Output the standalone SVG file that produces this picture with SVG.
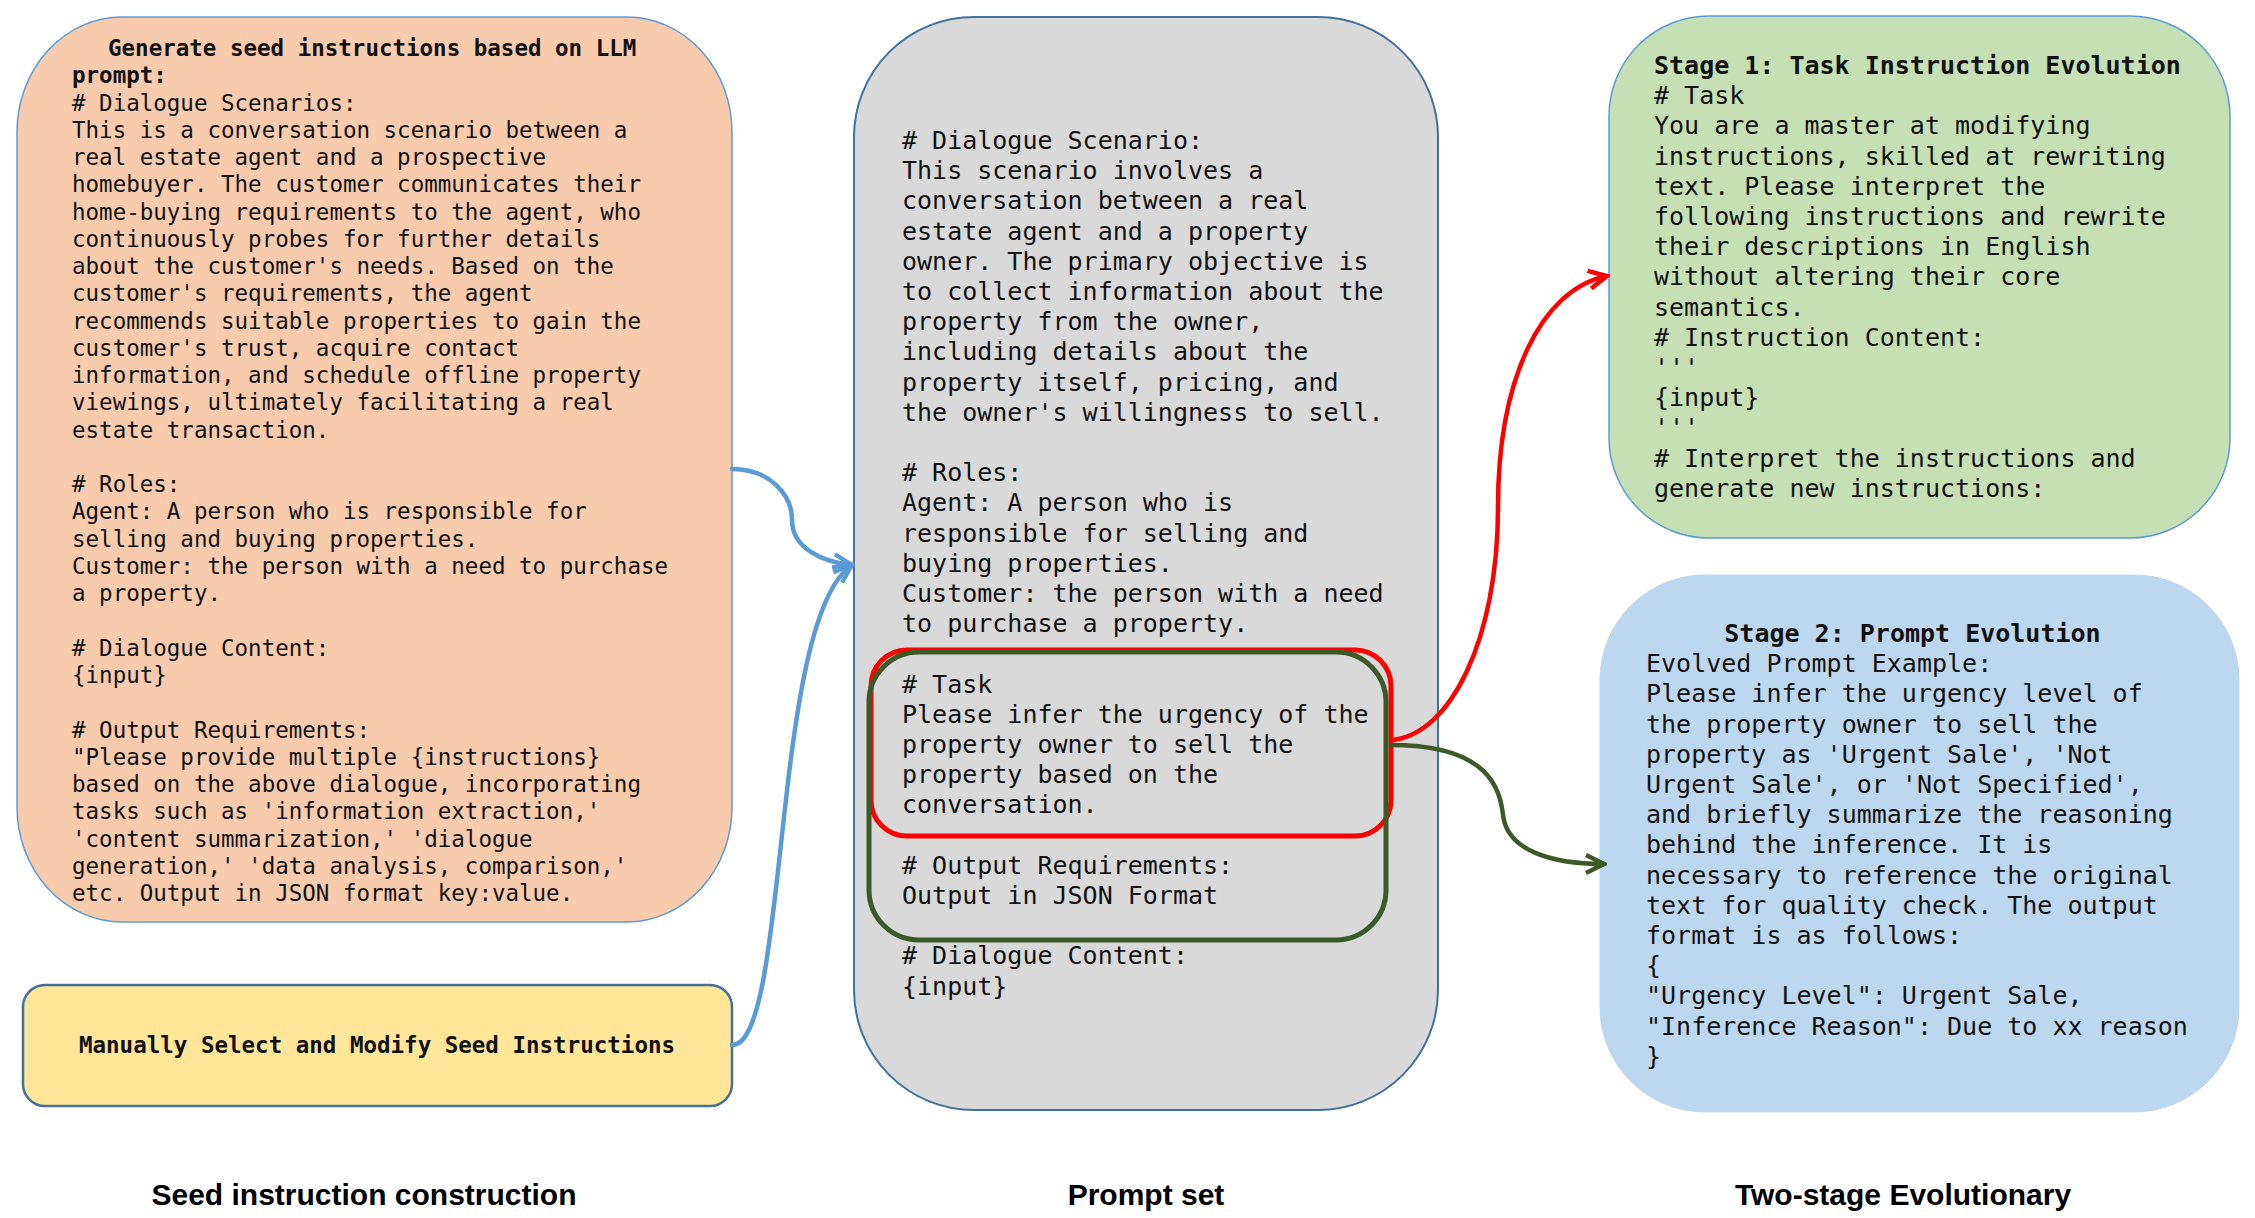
<svg xmlns="http://www.w3.org/2000/svg" width="2255" height="1218" viewBox="0 0 2255 1218">
<style>
.mono{font-family:"DejaVu Sans Mono","Liberation Mono",monospace;fill:#111;}
.s{font-size:22.5px;}
.m{font-size:25px;}
.b{font-weight:bold;}
.lbl{font-family:"Liberation Sans",Arial,sans-serif;font-weight:bold;font-size:30px;fill:#000;text-anchor:middle;}
.conn{fill:none;stroke-width:4.5;stroke-linecap:round;}
</style>
<defs>
<marker id="ab" viewBox="0 0 12 12" refX="10.5" refY="6" markerWidth="24" markerHeight="24" markerUnits="userSpaceOnUse" orient="auto"><path d="M1.5,1.5 L10.5,6 L1.5,10.5" fill="none" stroke="#5b9bd5" stroke-width="2.2"/></marker>
<marker id="ar" viewBox="0 0 12 12" refX="10.5" refY="6" markerWidth="24" markerHeight="24" markerUnits="userSpaceOnUse" orient="auto"><path d="M1.5,1.5 L10.5,6 L1.5,10.5" fill="none" stroke="#ff0000" stroke-width="2.2"/></marker>
<marker id="ag" viewBox="0 0 12 12" refX="10.5" refY="6" markerWidth="24" markerHeight="24" markerUnits="userSpaceOnUse" orient="auto"><path d="M1.5,1.5 L10.5,6 L1.5,10.5" fill="none" stroke="#3b5a27" stroke-width="2.2"/></marker>
</defs>
<rect width="2255" height="1218" fill="#fff"/>

<g id="seed-llm">
<rect x="17" y="17" width="715" height="905" rx="105" ry="115" fill="#f8cbad" stroke="#5b9bd5" stroke-width="1.5"/>
<text class="mono s" x="72" y="56">
<tspan class="b" x="108">Generate seed instructions based on LLM</tspan>
<tspan class="b" x="72" dy="27.26">prompt:</tspan>
<tspan x="72" dy="27.26"># Dialogue Scenarios:</tspan>
<tspan x="72" dy="27.26">This is a conversation scenario between a</tspan>
<tspan x="72" dy="27.26">real estate agent and a prospective</tspan>
<tspan x="72" dy="27.26">homebuyer. The customer communicates their</tspan>
<tspan x="72" dy="27.26">home-buying requirements to the agent, who</tspan>
<tspan x="72" dy="27.26">continuously probes for further details</tspan>
<tspan x="72" dy="27.26">about the customer's needs. Based on the</tspan>
<tspan x="72" dy="27.26">customer's requirements, the agent</tspan>
<tspan x="72" dy="27.26">recommends suitable properties to gain the</tspan>
<tspan x="72" dy="27.26">customer's trust, acquire contact</tspan>
<tspan x="72" dy="27.26">information, and schedule offline property</tspan>
<tspan x="72" dy="27.26">viewings, ultimately facilitating a real</tspan>
<tspan x="72" dy="27.26">estate transaction.</tspan>
<tspan x="72" dy="54.52"># Roles:</tspan>
<tspan x="72" dy="27.26">Agent: A person who is responsible for</tspan>
<tspan x="72" dy="27.26">selling and buying properties.</tspan>
<tspan x="72" dy="27.26">Customer: the person with a need to purchase</tspan>
<tspan x="72" dy="27.26">a property.</tspan>
<tspan x="72" dy="54.52"># Dialogue Content:</tspan>
<tspan x="72" dy="27.26">{input}</tspan>
<tspan x="72" dy="54.52"># Output Requirements:</tspan>
<tspan x="72" dy="27.26">"Please provide multiple {instructions}</tspan>
<tspan x="72" dy="27.26">based on the above dialogue, incorporating</tspan>
<tspan x="72" dy="27.26">tasks such as 'information extraction,'</tspan>
<tspan x="72" dy="27.26">'content summarization,' 'dialogue</tspan>
<tspan x="72" dy="27.26">generation,' 'data analysis, comparison,'</tspan>
<tspan x="72" dy="27.26">etc. Output in JSON format key:value.</tspan>
</text>
</g>

<g id="seed-manual">
<rect x="23" y="985" width="709" height="121" rx="22" fill="#ffe699" stroke="#41719c" stroke-width="2.5"/>
<text class="mono s b" x="377" y="1053" text-anchor="middle">Manually Select and Modify Seed Instructions</text>
</g>

<g id="prompt-set">
<rect x="854" y="17" width="584" height="1093" rx="120" fill="#d9d9d9" stroke="#41719c" stroke-width="2"/>
<text class="mono m" x="902" y="149">
<tspan x="902"># Dialogue Scenario:</tspan>
<tspan x="902" dy="30.2">This scenario involves a</tspan>
<tspan x="902" dy="30.2">conversation between a real</tspan>
<tspan x="902" dy="30.2">estate agent and a property</tspan>
<tspan x="902" dy="30.2">owner. The primary objective is</tspan>
<tspan x="902" dy="30.2">to collect information about the</tspan>
<tspan x="902" dy="30.2">property from the owner,</tspan>
<tspan x="902" dy="30.2">including details about the</tspan>
<tspan x="902" dy="30.2">property itself, pricing, and</tspan>
<tspan x="902" dy="30.2">the owner's willingness to sell.</tspan>
<tspan x="902" dy="60.4"># Roles:</tspan>
<tspan x="902" dy="30.2">Agent: A person who is</tspan>
<tspan x="902" dy="30.2">responsible for selling and</tspan>
<tspan x="902" dy="30.2">buying properties.</tspan>
<tspan x="902" dy="30.2">Customer: the person with a need</tspan>
<tspan x="902" dy="30.2">to purchase a property.</tspan>
<tspan x="902" dy="60.4"># Task</tspan>
<tspan x="902" dy="30.2">Please infer the urgency of the</tspan>
<tspan x="902" dy="30.2">property owner to sell the</tspan>
<tspan x="902" dy="30.2">property based on the</tspan>
<tspan x="902" dy="30.2">conversation.</tspan>
<tspan x="902" dy="60.4"># Output Requirements:</tspan>
<tspan x="902" dy="30.2">Output in JSON Format</tspan>
<tspan x="902" dy="60.4"># Dialogue Content:</tspan>
<tspan x="902" dy="30.2">{input}</tspan>
</text>
</g>

<g id="task-highlight">
<rect x="871" y="650" width="520" height="186" rx="36" fill="none" stroke="#ff0000" stroke-width="5"/>
</g>
<g id="task-output-highlight">
<rect x="869" y="652" width="517" height="288" rx="50" fill="none" stroke="#3b5a27" stroke-width="5"/>
</g>

<g id="stage1">
<rect x="1609" y="16" width="621" height="522" rx="100" fill="#c5e0b4" stroke="#5b9bd5" stroke-width="1.5"/>
<text class="mono m" x="1654" y="74">
<tspan class="b" x="1654">Stage 1: Task Instruction Evolution</tspan>
<tspan x="1654" dy="30.2"># Task</tspan>
<tspan x="1654" dy="30.2">You are a master at modifying</tspan>
<tspan x="1654" dy="30.2">instructions, skilled at rewriting</tspan>
<tspan x="1654" dy="30.2">text. Please interpret the</tspan>
<tspan x="1654" dy="30.2">following instructions and rewrite</tspan>
<tspan x="1654" dy="30.2">their descriptions in English</tspan>
<tspan x="1654" dy="30.2">without altering their core</tspan>
<tspan x="1654" dy="30.2">semantics.</tspan>
<tspan x="1654" dy="30.2"># Instruction Content:</tspan>
<tspan x="1654" dy="30.2">'''</tspan>
<tspan x="1654" dy="30.2">{input}</tspan>
<tspan x="1654" dy="30.2">'''</tspan>
<tspan x="1654" dy="30.2"># Interpret the instructions and</tspan>
<tspan x="1654" dy="30.2">generate new instructions:</tspan>
</text>
</g>

<g id="stage2">
<rect x="1600" y="575" width="639" height="537" rx="105" fill="#bdd7ee" stroke="#bdd7ee" stroke-width="1"/>
<text class="mono m" x="1646" y="642">
<tspan class="b" x="1920" text-anchor="middle">Stage 2: Prompt Evolution</tspan>
<tspan x="1646" dy="30.2">Evolved Prompt Example:</tspan>
<tspan x="1646" dy="30.2">Please infer the urgency level of</tspan>
<tspan x="1646" dy="30.2">the property owner to sell the</tspan>
<tspan x="1646" dy="30.2">property as 'Urgent Sale', 'Not</tspan>
<tspan x="1646" dy="30.2">Urgent Sale', or 'Not Specified',</tspan>
<tspan x="1646" dy="30.2">and briefly summarize the reasoning</tspan>
<tspan x="1646" dy="30.2">behind the inference. It is</tspan>
<tspan x="1646" dy="30.2">necessary to reference the original</tspan>
<tspan x="1646" dy="30.2">text for quality check. The output</tspan>
<tspan x="1646" dy="30.2">format is as follows:</tspan>
<tspan x="1646" dy="30.2">{</tspan>
<tspan x="1646" dy="30.2">"Urgency Level": Urgent Sale,</tspan>
<tspan x="1646" dy="30.2">"Inference Reason": Due to xx reason</tspan>
<tspan x="1646" dy="30.2">}</tspan>
</text>
</g>

<g id="connectors">
<path class="conn" stroke="#5b9bd5" d="M732,469 C770,469 792,495 792,520 C792,548 822,562 852,565" marker-end="url(#ab)"/>
<path class="conn" stroke="#5b9bd5" d="M732,1045 C790,1045 770,620 852,565" marker-end="url(#ab)"/>
<path class="conn" stroke="#ff0000" d="M1392,740 C1450,735 1498,640 1498,507 C1498,380 1540,290 1607,276" marker-end="url(#ar)"/>
<path class="conn" stroke="#3b5a27" d="M1391,745 C1490,745 1500,790 1503,815 C1507,850 1550,864 1604,864" marker-end="url(#ag)"/>
</g>

<g id="captions">
<text class="lbl" x="364" y="1205">Seed instruction construction</text>
<text class="lbl" x="1146" y="1205">Prompt set</text>
<text class="lbl" x="1903" y="1205">Two-stage Evolutionary</text>
</g>
</svg>
